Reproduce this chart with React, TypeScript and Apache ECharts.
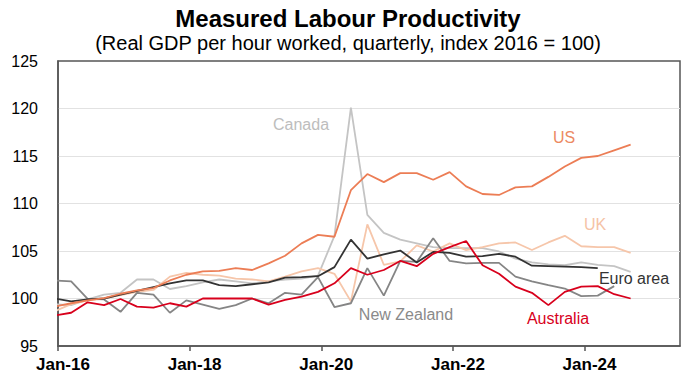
import React, { useEffect, useRef } from "react";
import * as echarts from "echarts";

// Quarter-end months, Dec-15 .. Sep-24
const quarters = [
  "2015-12", "2016-03", "2016-06", "2016-09", "2016-12",
  "2017-03", "2017-06", "2017-09", "2017-12",
  "2018-03", "2018-06", "2018-09", "2018-12",
  "2019-03", "2019-06", "2019-09", "2019-12",
  "2020-03", "2020-06", "2020-09", "2020-12",
  "2021-03", "2021-06", "2021-09", "2021-12",
  "2022-03", "2022-06", "2022-09", "2022-12",
  "2023-03", "2023-06", "2023-09", "2023-12",
  "2024-03", "2024-06", "2024-09",
];

const australia = [98.2, 98.5, 99.6, 99.3, 99.95, 99.15, 99.05, 99.5, 99.15, 100.0, 100.0, 100.0, 100.0, 99.35, 99.85, 100.2, 100.7, 101.6, 103.2, 102.5, 103.0, 103.95, 103.4, 104.7, 105.4, 106.05, 103.5, 102.6, 101.25, 100.6, 99.3, 100.7, 101.25, 101.3, 100.45, 100.0];
const us = [99.15, 99.5, 99.8, 100.05, 100.5, 100.85, 101.1, 101.9, 102.5, 102.85, 102.9, 103.2, 103.0, 103.7, 104.5, 105.8, 106.7, 106.5, 111.4, 113.1, 112.25, 113.2, 113.2, 112.5, 113.3, 111.8, 111.0, 110.9, 111.7, 111.8, 112.8, 113.9, 114.8, 115.0, 115.6, 116.2];
const uk = [98.65, 99.4, 99.8, 100.0, 100.35, 100.7, 100.9, 102.3, 102.7, 102.5, 102.4, 102.1, 102.0, 101.8, 102.3, 102.85, 103.2, 102.6, 99.7, 107.8, 103.55, 103.9, 105.6, 104.95, 105.8, 105.1, 105.4, 105.8, 105.9, 105.1, 105.9, 106.6, 105.5, 105.4, 105.4, 104.8];
const canada = [99.4, 99.3, 99.9, 100.4, 100.6, 102.0, 102.0, 101.0, 101.3, 101.7, 102.0, 101.8, 101.6, 101.8, 102.0, 102.1, 102.4, 106.6, 120.1, 108.8, 106.9, 106.2, 105.8, 105.4, 105.3, 105.3, 105.3, 104.95, 104.2, 103.8, 103.6, 103.5, 103.8, 103.55, 103.4, 102.8];
const euroArea = [100.0, 99.7, 99.9, 100.0, 100.4, 100.8, 101.2, 101.6, 101.9, 101.9, 101.4, 101.3, 101.5, 101.7, 102.2, 102.25, 102.35, 103.3, 106.2, 104.2, 104.65, 105.05, 103.8, 104.9, 104.8, 104.4, 104.45, 104.7, 104.4, 103.45, 103.4, 103.35, 103.3, 103.2];
const newZealand = [101.9, 101.8, 99.95, 99.9, 98.6, 100.6, 100.4, 98.5, 99.8, 99.35, 98.9, 99.3, 100.0, 99.5, 100.6, 100.4, 102.25, 99.1, 99.5, 103.2, 100.3, 103.95, 103.85, 106.35, 103.95, 103.7, 103.75, 103.75, 102.3, 101.8, 101.4, 101.05, 100.25, 100.3, 101.3];

const yTicks = [95, 100, 105, 110, 115, 120, 125];
const xTickLabels = ["Jan-16", "Jan-18", "Jan-20", "Jan-22", "Jan-24"];

const FONT = "'Liberation Sans', Arial, sans-serif";

// months since Jan-2016 (mid-month)
function monthPos(q: string): number {
  const [y, m] = q.split("-").map(Number);
  return (y - 2016) * 12 + (m - 1) + 0.4;
}

function toData(vals: number[]) {
  return vals.map((v, i) => [monthPos(quarters[i]), v]);
}

const xTickValues = xTickLabels.map((_, i) => i * 24);

export default function App() {
  const ref = useRef<HTMLDivElement>(null);
  useEffect(() => {
    document.body.style.margin = "0";
    const chart = echarts.init(ref.current!, null, { renderer: "svg" });
    const line = (name: string, vals: number[], color: string, width = 1.8) => ({
      name,
      type: "line",
      data: toData(vals),
      showSymbol: false,
      symbol: "none",
      clip: true,
      lineStyle: { color, width },
      itemStyle: { color },
    });
    const label = (text: string, x: number, y: number, fill: string) => ({
      type: "text",
      x,
      y,
      style: {
        text,
        fill,
        font: `16px ${FONT}`,
        textAlign: "center",
        textVerticalAlign: "middle",
      },
    });
    chart.setOption({
      animation: false,
      backgroundColor: "#ffffff",
      title: [
        {
          text: "Measured Labour Productivity",
          left: "center",
          top: 6,
          padding: 0,
          textStyle: { fontFamily: FONT, fontSize: 24, fontWeight: "bold", color: "#000" },
        },
        {
          text: "(Real GDP per hour worked, quarterly, index 2016 = 100)",
          left: "center",
          top: 33,
          padding: 0,
          textStyle: { fontFamily: FONT, fontSize: 20, fontWeight: "normal", color: "#000" },
        },
      ],
      grid: {
        left: 58,
        right: 16,
        top: 61,
        bottom: 44,
        show: true,
        borderColor: "#555",
        borderWidth: 1.5,
        backgroundColor: "transparent",
      },
      xAxis: {
        type: "value",
        min: 0,
        max: 113.4,
        interval: 24,
        axisLine: { show: true, lineStyle: { color: "#555", width: 1.5 } },
        axisTick: {
          show: true,
          inside: false,
          length: 5,
          customValues: xTickValues,
          lineStyle: { color: "#555", width: 1.5 },
        },
        axisLabel: {
          customValues: xTickValues,
          formatter: (v: number) => {
            const idx = Math.round(v / 24);
            return Math.abs(v - idx * 24) < 0.01 && xTickLabels[idx] ? xTickLabels[idx] : "";
          },
          fontFamily: FONT,
          fontSize: 17,
          fontWeight: "bold",
          color: "#000",
          margin: 10,
          padding: [0, 0, 0, 10],
        },
        splitLine: { show: false },
      },
      yAxis: {
        type: "value",
        min: yTicks[0],
        max: yTicks[yTicks.length - 1],
        interval: 5,
        axisLine: { show: true, lineStyle: { color: "#555", width: 1.5 } },
        axisTick: { show: false },
        axisLabel: {
          fontFamily: FONT,
          fontSize: 16,
          color: "#000",
          margin: 20,
        },
        splitLine: {
          show: true,
          showMinLine: false,
          showMaxLine: false,
          lineStyle: { color: "#e2e2e2", width: 1.2 },
        },
      },
      series: [
        line("Canada", canada, "#c4c4c4"),
        line("UK", uk, "#f6c6aa"),
        line("New Zealand", newZealand, "#858585"),
        line("Euro area", euroArea, "#333333"),
        line("US", us, "#ec7d55"),
        line("Australia", australia, "#d8001c"),
      ],
      graphic: [
        label("Canada", 301, 124, "#bdbdbd"),
        label("US", 564, 137, "#ec8a62"),
        label("UK", 595, 224, "#f5c3a6"),
        label("Euro area", 634, 278, "#333333"),
        label("New Zealand", 406, 314, "#8a8a8a"),
        label("Australia", 558, 318, "#d8001c"),
      ],
    });
    return () => chart.dispose();
  }, []);
  return (
    <div
      ref={ref}
      style={{ position: "fixed", left: 0, top: 0, width: 696, height: 390, background: "#fff" }}
    />
  );
}
